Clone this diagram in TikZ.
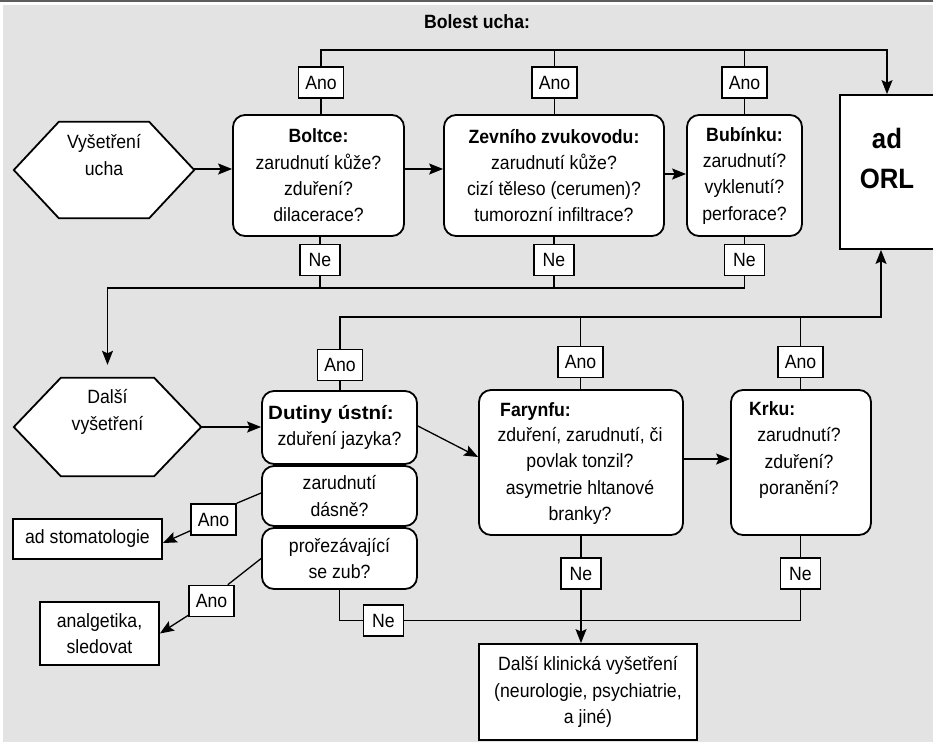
\documentclass[tikz,border=0pt]{standalone}
\usepackage{fontspec}
\setmainfont{Liberation Sans}[FakeStretch=0.92]
\usetikzlibrary{arrows.meta,calc}
\definecolor{bg}{HTML}{E2E3E2}
\definecolor{bar}{HTML}{5E5E5E}
\begin{document}
\begin{tikzpicture}[x=1pt,y=-1pt, font=\fontsize{19.2}{26.3}\selectfont,
 rbox/.style={draw, line width=1.8pt, fill=white, rounded corners=12pt, align=center, inner sep=0pt},
 sbox/.style={draw, line width=1.8pt, fill=white, align=center, inner sep=0pt},
 lab/.style={draw, line width=1.6pt, fill=white, inner sep=0pt, minimum height=31pt},
 ano/.style={lab, minimum width=45pt},
 nelab/.style={lab, minimum width=40pt},
 conn/.style={line width=1.3pt},
 arr/.style={conn, -{Stealth[length=14pt,width=11pt,inset=2.5pt]}},
 txt/.style={align=center, inner sep=0pt},
 btitle/.style={font=\fontsize{19.2}{26.3}\selectfont\bfseries, inner sep=0pt},
 hexline/.style={line width=1.8pt, fill=white}]
\useasboundingbox (0,0) rectangle (933,742);
\fill[white] (0,0) rectangle (933,742);
\fill[bg] (3,4.5) rectangle (933,742);
\fill[bar] (0,0) rectangle (933,2.2);

% title
\node[btitle] (title) at (477,22) {Bolest ucha:};

% hexagons
\node[minimum width=180pt, minimum height=96pt, inner sep=0pt] (hex1) at (104,170) {};
\draw[hexline] (hex1.west) -- ([xshift=45pt]hex1.north west) -- ([xshift=-45pt]hex1.north east) -- (hex1.east) -- ([xshift=-45pt]hex1.south east) -- ([xshift=45pt]hex1.south west) -- cycle;
\node[txt] (hex1t) at (104,155) {Vyšetření\\ucha};

\node[minimum width=187pt, minimum height=98pt, inner sep=0pt] (hex2) at (107.5,427) {};
\draw[hexline] (hex2.west) -- ([xshift=47pt]hex2.north west) -- ([xshift=-47pt]hex2.north east) -- (hex2.east) -- ([xshift=-47pt]hex2.south east) -- ([xshift=47pt]hex2.south west) -- cycle;
\node[txt] (hex2t) at (107.5,412) {Další\\vyšetření};

% top row
\node[rbox, minimum width=171pt, minimum height=121pt] (bol) at (318.5,175.5) {\textbf{Boltce:}\\zarudnutí kůže?\\zduření?\\dilacerace?};
\node[rbox, minimum width=220pt, minimum height=121pt] (zev) at (554,175.5) {\textbf{Zevního zvukovodu:}\\zarudnutí kůže?\\cizí těleso (cerumen)?\\tumorozní infiltrace?};
\node[rbox, minimum width=115pt, minimum height=121pt] (bub) at (744.5,175.5) {\textbf{Bubínku:}\\zarudnutí?\\vyklenutí?\\perforace?};

\node[sbox, minimum width=94pt, minimum height=154pt] (orl) at (887,172) {};
\node[txt, font=\fontsize{28}{40}\selectfont\bfseries] (orlt) at (887,158) {ad\\ORL};

% bottom row
\node[rbox, minimum width=155pt, minimum height=73pt] (dut) at (339.5,427.5) {{\bfseries\addfontfeature{FakeStretch=1.07}Dutiny ústní:}\hspace*{17pt}\\zduření jazyka?};
\node[rbox, minimum width=155pt, minimum height=60pt] (zar) at (339.5,496) {zarudnutí\\dásně?};
\node[rbox, minimum width=155pt, minimum height=61pt] (prz) at (339.5,558.5) {prořezávající\\se zub?};

\node[rbox, minimum width=204pt, minimum height=145pt] (far) at (581,462.5) {};
\node[txt] (fart) at (580,476) {zduření, zarudnutí, či\\povlak tonzil?\\asymetrie hltanové\\branky?};
\node[btitle, anchor=base west] (fartit) at (500,416) {Farynfu:};

\node[rbox, minimum width=140pt, minimum height=145pt] (kr) at (801,462.5) {};
\node[txt] (krt) at (799,463) {zarudnutí?\\zduření?\\poranění?};
\node[btitle, anchor=base west] (krtit) at (749,415) {Krku:};

\node[sbox, minimum width=218pt, minimum height=96pt] (dal) at (588,692) {Další klinická vyšetření\\(neurologie, psychiatrie,\\a jiné)};
\node[sbox, minimum width=149pt, minimum height=40pt] (sto) at (87.5,539) {ad stomatologie};
\node[sbox, minimum width=119pt, minimum height=63pt] (ana) at (99.5,633.5) {analgetika,\\sledovat};

% labels
\node[ano] (a1) at (321,82.5) {Ano};
\node[ano] (a2) at (554.5,82.5) {Ano};
\node[ano] (a3) at (744.5,82.5) {Ano};
\node[nelab] (n1) at (320,260) {Ne};
\node[nelab] (n2) at (554,260) {Ne};
\node[nelab] (n3) at (744.5,260) {Ne};
\node[ano] (a4) at (340,365) {Ano};
\node[ano] (a5) at (580.5,362) {Ano};
\node[ano] (a6) at (800.5,362) {Ano};
\node[nelab] (n4) at (581,573.5) {Ne};
\node[nelab] (n5) at (800.5,573.5) {Ne};
\node[nelab] (n6) at (383.5,620.5) {Ne};
\node[ano] (a7) at (213.5,519.5) {Ano};
\node[ano] (a8) at (211.5,601) {Ano};

% top connectors
\coordinate (ty) at (0,50);
\draw[arr] (a1.north) |- (ty -| orl.north) -- (orl.north);
\draw[conn] (a2.north) -- (a2.north |- ty);
\draw[conn] (a3.north) -- (a3.north |- ty);
\draw[conn] (a1.south) -- (a1.south |- bol.north);
\draw[conn] (a2.south) -- (a2.south |- zev.north);
\draw[conn] (a3.south) -- (a3.south |- bub.north);
\draw[conn] (n1.north) -- (n1.north |- bol.south);
\draw[conn] (n2.north) -- (n2.north |- zev.south);
\draw[conn] (n3.north) -- (n3.north |- bub.south);
\coordinate (ny) at (0,288);
\draw[arr, shorten >=13pt] (n3.south) |- (ny -| hex2.north) -- (hex2.north);
\draw[conn] (n1.south) -- (n1.south |- ny);
\draw[conn] (n2.south) -- (n2.south |- ny);
\draw[arr] ([yshift=1pt]hex1.east) -- ([yshift=1pt]hex1.east -| bol.west);
\draw[arr] ([yshift=1pt]hex1.east -| bol.east) -- ([yshift=1pt]hex1.east -| zev.west);
\draw[arr] ([yshift=1.5pt]zev.east) -- ([yshift=1.5pt]bub.west);

% bottom connectors
\coordinate (my) at (0,317);
\coordinate (orlin) at ([xshift=-6pt]orl.south);
\draw[arr] (a4.north) |- (my -| orlin) -- (orlin);
\draw[conn] (a5.north) -- (a5.north |- my);
\draw[conn] (a6.north) -- (a6.north |- my);
\draw[conn] (a4.south) -- (a4.south |- dut.north);
\draw[conn] (a5.south) -- (a5.south |- far.north);
\draw[conn] (a6.south) -- (a6.south |- kr.north);
\draw[arr] (hex2.east) -- (hex2.east -| dut.west);
\draw[arr] ([yshift=1.5pt]dut.east) -- ([yshift=5.5pt]far.west);
\draw[arr] ([yshift=3.5pt]far.east) -- ([yshift=3.5pt]kr.west);
\draw[conn] (n4.north |- far.south) -- (n4.north);
\draw[arr] (n4.south) -- (n4.south |- dal.north);
\draw[conn] (n5.north) -- (n5.north |- kr.south);
\draw[conn] (n6.east) -| (n5.south);
\draw[conn] (prz.south) |- (n6.west);

% left connectors
\draw[conn] ([yshift=3pt]zar.west) -- (a7.north east);
\draw[arr] ([yshift=5pt]a7.south west) -- ([yshift=-4pt]sto.east);
\draw[conn] (prz.west) -- ([xshift=-7pt]a8.north east);
\draw[arr] ([yshift=2pt]a8.south west) -- (ana.east);
\end{tikzpicture}
\end{document}
